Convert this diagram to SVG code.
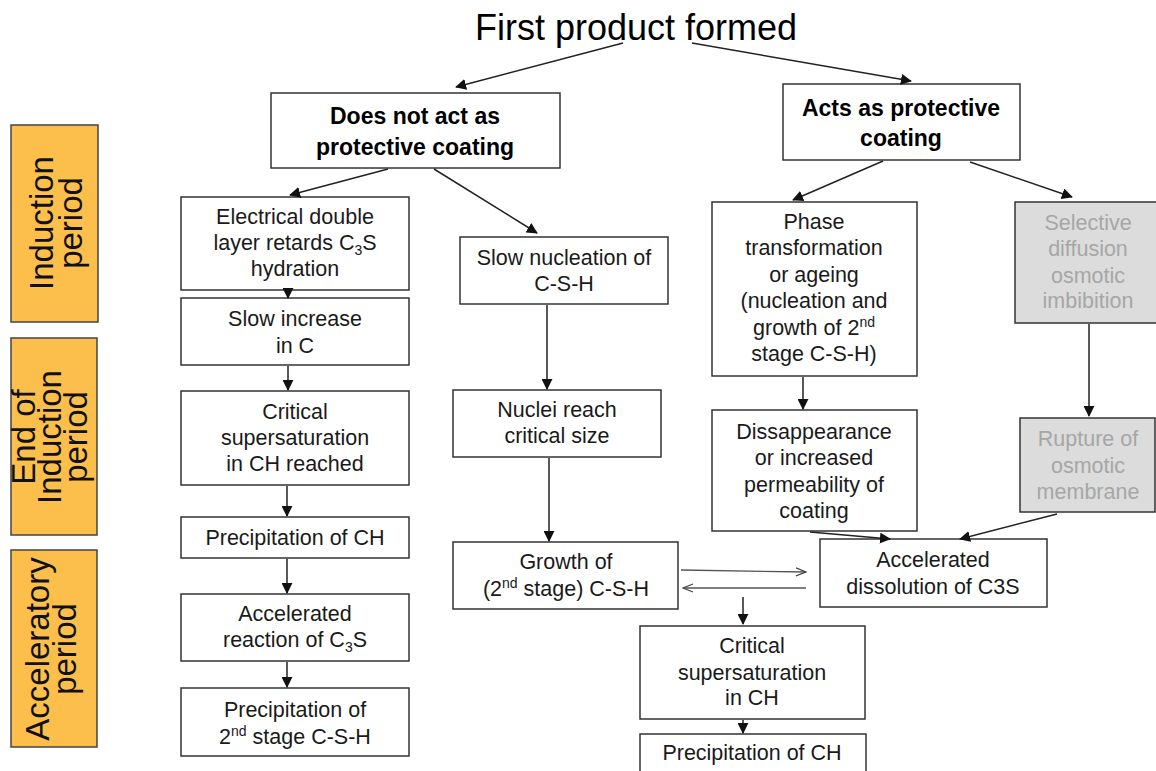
<svg xmlns="http://www.w3.org/2000/svg" width="1156" height="771" viewBox="0 0 1156 771">
<defs>
<marker id="ah" viewBox="0 0 12 12" refX="11" refY="6" markerWidth="11" markerHeight="11" markerUnits="userSpaceOnUse" orient="auto">
<path d="M0,0 L12,6 L0,12 z" fill="#111"/>
</marker>
<marker id="oh" viewBox="0 0 12 10" refX="11" refY="5" markerWidth="12" markerHeight="10" markerUnits="userSpaceOnUse" orient="auto">
<path d="M1,1 L11,5 L1,9" fill="none" stroke="#444" stroke-width="1.3"/>
</marker>
</defs>
<style>
.box{fill:#fff;stroke:#333;stroke-width:1.5}
.gbox{fill:#dcdcdc;stroke:#333;stroke-width:1.5}
.obox{fill:#fdbf4b;stroke:#444;stroke-width:1.5}
.t{font-family:"Liberation Sans",Arial,sans-serif;font-size:21.5px;fill:#1a1a1a;text-anchor:middle}
.g{fill:#a6a6a6}
.b{font-family:"Liberation Sans",Arial,sans-serif;font-size:23px;font-weight:bold;fill:#000;text-anchor:middle}
.side{font-family:"Liberation Sans",Arial,sans-serif;font-size:33px;fill:#111;text-anchor:middle}
.title{font-family:"Liberation Sans",Arial,sans-serif;font-size:36px;fill:#000;text-anchor:middle}
.c{fill:none;stroke:#222;stroke-width:1.5;marker-end:url(#ah)}
.co{fill:none;stroke:#555;stroke-width:1.3;marker-end:url(#oh)}
.sup{font-size:14px}
</style>

<g id="period-induction">
<rect class="obox" x="11" y="125" width="87" height="197"/>
<g transform="translate(55,223) rotate(-90)">
<text class="side" x="0" y="-2">Induction</text>
<text class="side" x="0" y="27">period</text>
</g>
</g>
<g id="period-end-induction">
<rect class="obox" x="11" y="338" width="86" height="197"/>
<g transform="translate(54,437) rotate(-90)">
<text class="side" x="0" y="-19">End of</text>
<text class="side" x="0" y="7">Induction</text>
<text class="side" x="0" y="33">period</text>
</g>
</g>
<g id="period-acceleratory">
<rect class="obox" x="11" y="550" width="86" height="197"/>
<g transform="translate(54,649) rotate(-90)">
<text class="side" x="0" y="-5">Acceleratory</text>
<text class="side" x="0" y="22">period</text>
</g>
</g>

<g id="title"><text class="title" x="636" y="40">First product formed</text></g>

<g id="n-not-protective">
<rect class="box" x="271" y="93" width="289" height="75"/>
<text class="b" x="415" y="124">Does not act as</text>
<text class="b" x="415" y="155">protective coating</text>
</g>
<g id="n-protective">
<rect class="box" x="783" y="84" width="237" height="76"/>
<text class="b" x="901" y="116">Acts as protective</text>
<text class="b" x="901" y="146">coating</text>
</g>

<g id="n-electrical">
<rect class="box" x="181" y="197" width="228" height="93"/>
<text class="t" x="295" y="224">Electrical double</text>
<text class="t" x="295" y="250">layer retards C<tspan class="sup" dy="5">3</tspan><tspan dy="-5">S</tspan></text>
<text class="t" x="295" y="276">hydration</text>
</g>
<g id="n-slow-increase">
<rect class="box" x="181" y="298" width="228" height="67"/>
<text class="t" x="295" y="326">Slow increase</text>
<text class="t" x="295" y="353">in C</text>
</g>
<g id="n-critical-left">
<rect class="box" x="181" y="391" width="228" height="94"/>
<text class="t" x="295" y="419">Critical</text>
<text class="t" x="295" y="445">supersaturation</text>
<text class="t" x="295" y="471">in CH reached</text>
</g>
<g id="n-precip-ch-left">
<rect class="box" x="181" y="517" width="228" height="41"/>
<text class="t" x="295" y="545">Precipitation of CH</text>
</g>
<g id="n-accel-reaction">
<rect class="box" x="181" y="594" width="228" height="67"/>
<text class="t" x="295" y="621">Accelerated</text>
<text class="t" x="295" y="647">reaction of C<tspan class="sup" dy="5">3</tspan><tspan dy="-5">S</tspan></text>
</g>
<g id="n-precip-csh">
<rect class="box" x="181" y="688" width="228" height="68"/>
<text class="t" x="295" y="717">Precipitation of</text>
<text class="t" x="295" y="744">2<tspan class="sup" dy="-8">nd</tspan><tspan dy="8"> stage C-S-H</tspan></text>
</g>

<g id="n-slow-nucleation">
<rect class="box" x="460" y="237" width="208" height="67"/>
<text class="t" x="564" y="265">Slow nucleation of</text>
<text class="t" x="564" y="291">C-S-H</text>
</g>
<g id="n-nuclei">
<rect class="box" x="453" y="390" width="208" height="67"/>
<text class="t" x="557" y="417">Nuclei reach</text>
<text class="t" x="557" y="443">critical size</text>
</g>
<g id="n-growth">
<rect class="box" x="453" y="542" width="225" height="67"/>
<text class="t" x="566" y="569">Growth of</text>
<text class="t" x="566" y="596">(2<tspan class="sup" dy="-8">nd</tspan><tspan dy="8"> stage) C-S-H</tspan></text>
</g>
<g id="n-critical-mid">
<rect class="box" x="640" y="626" width="225" height="93"/>
<text class="t" x="752" y="653">Critical</text>
<text class="t" x="752" y="680">supersaturation</text>
<text class="t" x="752" y="705">in CH</text>
</g>
<g id="n-precip-ch-mid">
<rect class="box" x="640" y="734" width="226" height="45"/>
<text class="t" x="752" y="760">Precipitation of CH</text>
</g>

<g id="n-phase">
<rect class="box" x="712" y="202" width="205" height="174"/>
<text class="t" x="814" y="229">Phase</text>
<text class="t" x="814" y="255">transformation</text>
<text class="t" x="814" y="282">or ageing</text>
<text class="t" x="814" y="308">(nucleation and</text>
<text class="t" x="814" y="335">growth of 2<tspan class="sup" dy="-8">nd</tspan></text>
<text class="t" x="814" y="361">stage C-S-H)</text>
</g>
<g id="n-disappearance">
<rect class="box" x="712" y="410" width="205" height="121"/>
<text class="t" x="814" y="439">Dissappearance</text>
<text class="t" x="814" y="465">or increased</text>
<text class="t" x="814" y="492">permeability of</text>
<text class="t" x="814" y="518">coating</text>
</g>
<g id="n-accel-dissolution">
<rect class="box" x="820" y="539" width="227" height="68"/>
<text class="t" x="933" y="567">Accelerated</text>
<text class="t" x="933" y="594">dissolution of C3S</text>
</g>
<g id="n-selective">
<rect class="gbox" x="1015" y="202" width="143" height="121"/>
<text class="t g" x="1088" y="230">Selective</text>
<text class="t g" x="1088" y="256">diffusion</text>
<text class="t g" x="1088" y="283">osmotic</text>
<text class="t g" x="1088" y="308">imbibition</text>
</g>
<g id="n-rupture">
<rect class="gbox" x="1020" y="418" width="135" height="94"/>
<text class="t g" x="1088" y="446">Rupture of</text>
<text class="t g" x="1088" y="473">osmotic</text>
<text class="t g" x="1088" y="499">membrane</text>
</g>

<g id="connectors">
<path class="c" d="M623,43 L456,87"/>
<path class="c" d="M692,43 L911,81"/>
<path class="c" d="M388,169 L290,195"/>
<path class="c" d="M434,169 L537,233"/>
<path class="c" d="M883,161 L793,200"/>
<path class="c" d="M970,162 L1072,197"/>
<path class="c" d="M288,289 L288,298"/>
<path class="c" d="M288,366 L288,390"/>
<path class="c" d="M287,486 L287,516"/>
<path class="c" d="M287,559 L287,593"/>
<path class="c" d="M287,662 L287,687"/>
<path class="c" d="M547,305 L547,389"/>
<path class="c" d="M549,458 L549,541"/>
<path class="c" d="M803,377 L803,409"/>
<path class="c" d="M1089,324 L1089,416"/>
<path class="c" d="M810,532 L890,539"/>
<path class="c" d="M1057,514 L960,539"/>
<path class="co" d="M681,570 L806,572"/>
<path class="co" d="M806,588 L683,588"/>
<path class="c" d="M743,597 L743,624"/>
<path class="c" d="M743,720 L743,733"/>
</g>
</svg>
